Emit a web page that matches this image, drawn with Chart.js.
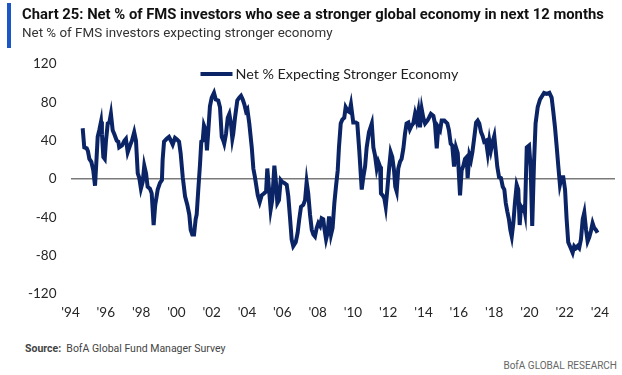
<!DOCTYPE html>
<html lang="en">
<head>
  <meta charset="UTF-8" />
  <title>Chart 25: Net % of FMS investors who see a stronger global economy</title>
  <script src="https://cdn.jsdelivr.net/npm/chart.js"></script>
  <style>
    body {
      margin: 0;
      padding: 0;
      background: #ffffff;
    }
    .page {
      position: relative;
      width: 622px;
      height: 375px;
      overflow: hidden;
      font-family: "Roboto", sans-serif;
    }
    .header {
      position: absolute;
      left: 7px;
      top: 3px;
      height: 45px;
      border-left: 4px solid #1b56c9;
      padding-left: 11px;
      z-index: 2;
    }
    .title {
      font-weight: bold;
      font-size: 14.8px;
      line-height: 19px;
      color: #111;
      margin-top: 2px;
    }
    .subtitle {
      font-size: 13.4px;
      line-height: 18px;
      color: #333;
    }
    .chart-box {
      position: absolute;
      left: 0;
      top: 42px;
      width: 622px;
      height: 288px;
    }
    .source {
      position: absolute;
      left: 25px;
      top: 342px;
      font-size: 10.5px;
      color: #444;
    }
    .brand {
      position: absolute;
      right: 5px;
      top: 360px;
      font-size: 10px;
      color: #666;
    }
  </style>
</head>
<body>
  <div class="page">
    <div class="header">
      <div class="title">Chart 25: Net % of FMS investors who see a stronger global economy in next 12 months</div>
      <div class="subtitle">Net % of FMS investors expecting stronger economy</div>
    </div>
    <div class="chart-box">
      <canvas id="fmsChart"></canvas>
    </div>
    <div class="source"><b>Source:</b>&nbsp; BofA Global Fund Manager Survey</div>
    <div class="brand">BofA GLOBAL RESEARCH</div>
  </div>

  <script>
    // survey dates (decimal years) and net % expecting a stronger economy
    const surveyDates = [
      1994.69, 1994.78, 1994.92, 1994.99, 1995.07, 1995.18, 1995.29, 1995.39, 1995.48, 1995.54, 1995.63, 1995.73, 1995.78, 1995.86, 1995.94,
      1996.01, 1996.11, 1996.2, 1996.29, 1996.39, 1996.48, 1996.62, 1996.71, 1996.76, 1996.92, 1997.05, 1997.14, 1997.24, 1997.37, 1997.48, 1997.61, 1997.71, 1997.81, 1997.9, 1997.99,
      1998.09, 1998.18, 1998.28, 1998.37, 1998.5, 1998.6, 1998.71, 1998.8, 1998.94, 1999.07, 1999.18, 1999.22, 1999.3, 1999.45, 1999.58, 1999.69, 1999.79, 1999.92,
      2000.05, 2000.15, 2000.24, 2000.36, 2000.49, 2000.62, 2000.73, 2000.81, 2000.9, 2001.0, 2001.09, 2001.15, 2001.24, 2001.34, 2001.41, 2001.49, 2001.56, 2001.66, 2001.73, 2001.81, 2001.9,
      2002.0, 2002.13, 2002.23, 2002.37, 2002.47, 2002.57, 2002.66, 2002.71, 2002.81, 2002.91, 2003.0, 2003.09, 2003.17, 2003.22, 2003.32, 2003.45, 2003.56, 2003.66, 2003.76, 2003.85, 2003.94,
      2004.02, 2004.13, 2004.27, 2004.36, 2004.45, 2004.61, 2004.72, 2004.83, 2004.96, 2005.08, 2005.15, 2005.25, 2005.34, 2005.43, 2005.55, 2005.63, 2005.72, 2005.81, 2005.91,
      2006.0, 2006.11, 2006.25, 2006.34, 2006.44, 2006.53, 2006.62, 2006.76, 2006.87, 2006.96, 2007.06, 2007.19, 2007.29, 2007.38, 2007.47, 2007.57, 2007.67, 2007.76, 2007.85, 2007.95,
      2008.04, 2008.14, 2008.23, 2008.32, 2008.38, 2008.48, 2008.57, 2008.65, 2008.76, 2008.85, 2008.95, 2009.04, 2009.14, 2009.21, 2009.31, 2009.4, 2009.51, 2009.59, 2009.71, 2009.8, 2009.89,
      2010.02, 2010.16, 2010.25, 2010.36, 2010.5, 2010.59, 2010.69, 2010.78, 2010.91, 2011.07, 2011.16, 2011.25, 2011.35, 2011.44, 2011.54, 2011.59, 2011.69, 2011.78, 2011.86, 2011.95,
      2012.05, 2012.14, 2012.23, 2012.33, 2012.4, 2012.48, 2012.57, 2012.67, 2012.76, 2012.86, 2012.95, 2013.04, 2013.14, 2013.23, 2013.33, 2013.42, 2013.52, 2013.61, 2013.71, 2013.8, 2013.9, 2013.99,
      2014.09, 2014.22, 2014.31, 2014.42, 2014.56, 2014.65, 2014.75, 2014.84, 2014.94, 2015.03, 2015.18, 2015.35, 2015.44, 2015.54, 2015.63, 2015.73, 2015.84, 2015.94,
      2016.07, 2016.16, 2016.26, 2016.35, 2016.45, 2016.5, 2016.6, 2016.69, 2016.77, 2016.88, 2016.98, 2017.07, 2017.16, 2017.26, 2017.35, 2017.44, 2017.54, 2017.64, 2017.73, 2017.82, 2017.92,
      2018.01, 2018.09, 2018.18, 2018.28, 2018.39, 2018.49, 2018.58, 2018.66, 2018.75, 2018.84, 2018.92, 2019.0, 2019.09, 2019.18, 2019.28, 2019.37, 2019.45, 2019.52, 2019.6, 2019.69, 2019.75, 2019.85, 2019.98,
      2020.07, 2020.16, 2020.26, 2020.35, 2020.47, 2020.6, 2020.73, 2020.83, 2020.98, 2021.13, 2021.26, 2021.35, 2021.45, 2021.55, 2021.64, 2021.73, 2021.83, 2021.92,
      2022.02, 2022.11, 2022.2, 2022.34, 2022.45, 2022.54, 2022.64, 2022.73, 2022.82, 2022.92, 2023.02, 2023.11, 2023.21, 2023.3, 2023.39, 2023.49, 2023.58, 2023.67, 2023.77, 2023.86
    ];

    const netExpectingStronger = [
      53, 33, 32, 29, 21, 18, 9, -7, 23, 44, 51, 60, 47, 23, 21,
      40, 58, 59, 68, 51, 47, 40, 39, 33, 35, 40, 42, 28, 35, 40, 49, 40, 6, 1, -10,
      -3, 14, 6, -8, -10, -15, -48, -27, -11, -4, -1, 20, 39, 42, 44, 40, 36, 43,
      41, 39, 27, 2, -18, -27, -37, -53, -58, -58, -42, -37, -11, 16, 39, 40, 56, 51, 30, 51, 76,
      85, 90, 83, 82, 75, 44, 40, 37, 47, 64, 68, 58, 42, 47, 64, 82, 85, 87, 83, 78, 71,
      73, 58, 33, 11, 2, -17, -24, -17, -15, -13, 11, -11, -32, -22, 14, -1, -25, -22, -1,
      -3, -4, -6, -18, -41, -63, -70, -66, -56, -42, -29, -27, -22, -3, -15, -37, -53, -58, -60, -51,
      -46, -49, -41, -42, -51, -63, -56, -39, -58, -51, -25, -8, 9, 33, 58, 62, 64, 75, 71, 70, 78,
      59, 59, 58, 30, -11, 2, 13, 33, 49, 58, 33, 25, 11, 18, 13, -15, -17, -20, -29, -11,
      11, 28, 23, 9, -8, -13, 11, 18, 21, 32, 47, 58, 59, 52, 56, 58, 68, 61, 71, 54, 73, 64,
      58, 61, 64, 68, 66, 58, 32, 54, 51, 61, 61, 58, 51, 37, 35, 13, 33, 27,
      -17, 9, 14, 21, 23, 1, 25, 20, 28, 44, 59, 61, 58, 49, 45, 39, 40, 27, 40, 30, 39,
      45, 30, 13, 2, 1, -8, -11, -25, -34, -42, -53, -60, -46, -25, -6, -11, -48, -29, -32, -29, -35, 33, 35,
      13, -49, 16, 58, 75, 83, 87, 90, 89, 90, 85, 71, 54, 33, 13, -6, 2, 2,
      -11, -42, -66, -72, -77, -70, -72, -70, -72, -63, -42, -35, -53, -65, -61, -54, -46, -51, -53, -56
    ];

    const yearTicks = [1994, 1996, 1998, 2000, 2002, 2004, 2006, 2008, 2010, 2012, 2014, 2016, 2018, 2020, 2022, 2024];
    const yTicks = [-120, -80, -40, 0, 40, 80, 120];

    const navy = '#0b2466';

    Chart.defaults.font.family = 'Lato, "Open Sans", sans-serif';
    Chart.defaults.font.size = 13.5;
    Chart.defaults.color = '#262626';

    const points = surveyDates.map((d, i) => ({ x: d, y: netExpectingStronger[i] }));

    // legend drawn inside the plot, near the top (like the Excel original)
    const innerLegend = {
      id: 'innerLegend',
      afterDraw(chart) {
        const { ctx, chartArea } = chart;
        const ds = chart.data.datasets[0];
        const x0 = chartArea.left + 130;
        const y = chartArea.top + 10;
        ctx.save();
        ctx.strokeStyle = ds.borderColor;
        ctx.lineWidth = ds.borderWidth;
        ctx.beginPath();
        ctx.moveTo(x0, y);
        ctx.lineTo(x0 + 32, y);
        ctx.stroke();
        ctx.fillStyle = '#222';
        ctx.font = '14.3px Lato, "Open Sans", sans-serif';
        ctx.textBaseline = 'middle';
        ctx.textAlign = 'left';
        ctx.fillText(ds.label, x0 + 35, y);
        ctx.restore();
      }
    };

    const ctx = document.getElementById('fmsChart').getContext('2d');

    const chart = new Chart(ctx, {
      type: 'line',
      data: {
        datasets: [{
          label: 'Net % Expecting Stronger Economy',
          data: points,
          borderColor: navy,
          backgroundColor: navy,
          borderWidth: 4,
          pointRadius: 0,
          tension: 0,
          fill: false
        }]
      },
      options: {
        responsive: true,
        maintainAspectRatio: false,
        animation: false,
        layout: {
          padding: { top: 4.5, right: 7, bottom: 0, left: 0 }
        },
        plugins: {
          legend: { display: false },
          tooltip: { enabled: false }
        },
        scales: {
          x: {
            type: 'linear',
            min: 1994,
            max: 2024.85,
            afterFit: s => { s.height = 36; },
            afterBuildTicks: axis => { axis.ticks = yearTicks.map(v => ({ value: v })); },
            grid: { display: false },
            border: { display: false },
            ticks: {
              padding: 3,
              maxRotation: 0,
              autoSkip: false,
              callback: v => "'" + String(v).slice(2)
            }
          },
          y: {
            min: -120,
            max: 120,
            afterFit: s => { s.width = 70.5; },
            afterBuildTicks: axis => { axis.ticks = yTicks.map(v => ({ value: v })); },
            border: { display: false },
            grid: {
              drawTicks: false,
              color: c => (c.tick && c.tick.value === 0) ? '#7a7a7a' : 'rgba(0,0,0,0)',
              lineWidth: 1.5
            },
            ticks: {
              padding: 14
            }
          }
        }
      },
      plugins: [innerLegend]
    });
  </script>
</body>
</html>
